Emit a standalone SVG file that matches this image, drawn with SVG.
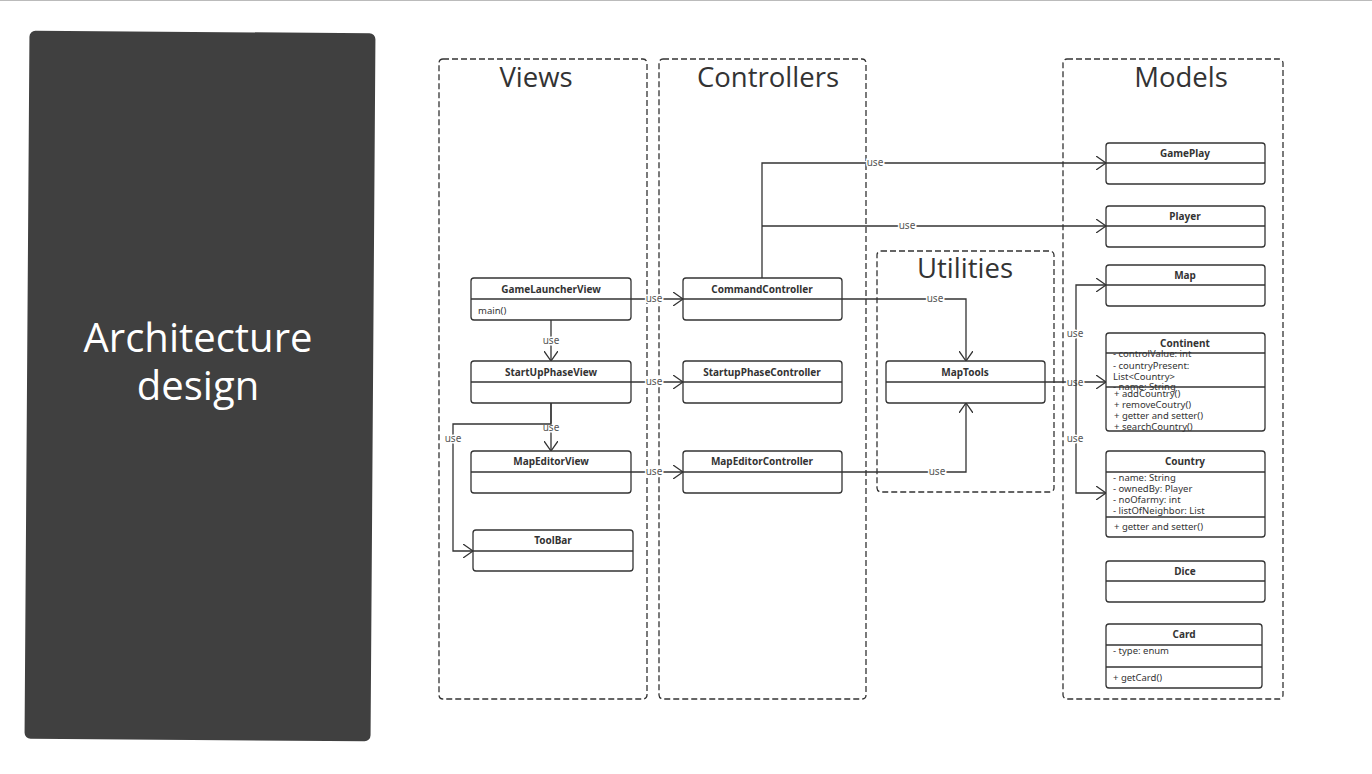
<svg xmlns="http://www.w3.org/2000/svg" width="1372" height="774" viewBox="0 0 1372 774">
<defs>
<style>
.cont{fill:none;stroke:#333;stroke-width:1.3;stroke-dasharray:6 3}
.title{font-family:"Open Sans","Noto Sans",sans-serif;font-size:27.5px;fill:#333;text-anchor:middle}
.box{fill:#fff;stroke:#333;stroke-width:1.3}
.sep{stroke:#333;stroke-width:1.3}
.name{font-family:"Noto Sans","DejaVu Sans",sans-serif;font-size:10px;font-weight:bold;fill:#333;text-anchor:middle}
.attr{font-family:"Noto Sans","DejaVu Sans",sans-serif;font-size:9.5px;fill:#333}
.edge{fill:none;stroke:#333;stroke-width:1.3}
.lbl{font-family:"Noto Sans","DejaVu Sans",sans-serif;font-size:10px;fill:#555;text-anchor:middle;dominant-baseline:middle;paint-order:stroke;stroke:#fff;stroke-width:3px}
</style>
<marker id="arr" viewBox="0 0 10 14" refX="10" refY="7" markerWidth="10" markerHeight="14" markerUnits="userSpaceOnUse" orient="auto">
<path d="M0,0 L10,7 L0,14" fill="none" stroke="#333" stroke-width="1.3"/>
</marker>
</defs>
<rect width="1372" height="774" fill="#fff"/>
<line x1="0" y1="0.5" x2="1372" y2="0.5" stroke="#bbb" stroke-width="1"/>
<g id="panel">
<rect x="27" y="32" width="346" height="708" rx="6" fill="#404040" transform="rotate(0.4 200 386)"/>
<text x="198" y="352" font-family="Open Sans,Noto Sans,sans-serif" font-size="40" fill="#fff" text-anchor="middle">Architecture</text>
<text x="198" y="400" font-family="Open Sans,Noto Sans,sans-serif" font-size="40" fill="#fff" text-anchor="middle">design</text>
</g>
<g id="containers">
<g id="views"><rect class="cont" x="439" y="59" width="208" height="640" rx="4"/><text class="title" x="536" y="87">Views</text></g>
<g id="controllers"><rect class="cont" x="659" y="59" width="207" height="640" rx="4"/><text class="title" x="768" y="87">Controllers</text></g>
<g id="utilities"><rect class="cont" x="877" y="251" width="177" height="241" rx="4"/><text class="title" x="965" y="278">Utilities</text></g>
<g id="models"><rect class="cont" x="1063" y="59" width="220" height="640" rx="4"/><text class="title" x="1181" y="87">Models</text></g>
</g>
<g id="connectors">
<path class="edge" d="M631,299 H683" marker-end="url(#arr)"/>
<text class="lbl" x="654" y="299">use</text>
<path class="edge" d="M631,382 H683" marker-end="url(#arr)"/>
<text class="lbl" x="654" y="382">use</text>
<path class="edge" d="M631,472 H683" marker-end="url(#arr)"/>
<text class="lbl" x="654" y="472">use</text>
<path class="edge" d="M551,320 V361" marker-end="url(#arr)"/>
<text class="lbl" x="551" y="341">use</text>
<path class="edge" d="M551,403 V451" marker-end="url(#arr)"/>
<text class="lbl" x="551" y="428">use</text>
<path class="edge" d="M551,403 V424 H453 V551 H473" marker-end="url(#arr)"/>
<text class="lbl" x="453" y="439">use</text>
<path class="edge" d="M762,278 V163 H1106" marker-end="url(#arr)"/>
<text class="lbl" x="875" y="163">use</text>
<path class="edge" d="M762,226 H1106" marker-end="url(#arr)"/>
<text class="lbl" x="907" y="226">use</text>
<path class="edge" d="M842,299 H966 V361" marker-end="url(#arr)"/>
<text class="lbl" x="935" y="299">use</text>
<path class="edge" d="M842,472 H966 V403" marker-end="url(#arr)"/>
<text class="lbl" x="937" y="472">use</text>
<path class="edge" d="M1045,382 H1106" marker-end="url(#arr)"/>
<text class="lbl" x="1075" y="383">use</text>
<path class="edge" d="M1076,382 V285 H1106" marker-end="url(#arr)"/>
<text class="lbl" x="1075" y="334">use</text>
<path class="edge" d="M1076,382 V493 H1106" marker-end="url(#arr)"/>
<text class="lbl" x="1075" y="439">use</text>
</g>
<g id="GameLauncherView"><rect class="box" x="471" y="278" width="160" height="42" rx="3"/><line class="sep" x1="471" y1="299" x2="631" y2="299"/><text class="name" x="551" y="293">GameLauncherView</text><text class="attr" x="478" y="314">main()</text></g>
<g id="CommandController"><rect class="box" x="683" y="278" width="159" height="42" rx="3"/><line class="sep" x1="683" y1="299" x2="842" y2="299"/><text class="name" x="762" y="293">CommandController</text></g>
<g id="StartUpPhaseView"><rect class="box" x="471" y="361" width="160" height="42" rx="3"/><line class="sep" x1="471" y1="382" x2="631" y2="382"/><text class="name" x="551" y="376">StartUpPhaseView</text></g>
<g id="StartupPhaseController"><rect class="box" x="683" y="361" width="159" height="42" rx="3"/><line class="sep" x1="683" y1="382" x2="842" y2="382"/><text class="name" x="762" y="376">StartupPhaseController</text></g>
<g id="MapEditorView"><rect class="box" x="471" y="451" width="160" height="42" rx="3"/><line class="sep" x1="471" y1="472" x2="631" y2="472"/><text class="name" x="551" y="465">MapEditorView</text></g>
<g id="MapEditorController"><rect class="box" x="683" y="451" width="159" height="42" rx="3"/><line class="sep" x1="683" y1="472" x2="842" y2="472"/><text class="name" x="762" y="465">MapEditorController</text></g>
<g id="ToolBar"><rect class="box" x="473" y="530" width="160" height="41" rx="3"/><line class="sep" x1="473" y1="551" x2="633" y2="551"/><text class="name" x="553" y="544">ToolBar</text></g>
<g id="MapTools"><rect class="box" x="886" y="361" width="159" height="42" rx="3"/><line class="sep" x1="886" y1="382" x2="1045" y2="382"/><text class="name" x="965" y="376">MapTools</text></g>
<g id="GamePlay"><rect class="box" x="1106" y="143" width="159" height="41" rx="3"/><line class="sep" x1="1106" y1="163" x2="1265" y2="163"/><text class="name" x="1185" y="157">GamePlay</text></g>
<g id="Player"><rect class="box" x="1106" y="206" width="159" height="41" rx="3"/><line class="sep" x1="1106" y1="226" x2="1265" y2="226"/><text class="name" x="1185" y="220">Player</text></g>
<g id="Map"><rect class="box" x="1106" y="265" width="159" height="41" rx="3"/><line class="sep" x1="1106" y1="285" x2="1265" y2="285"/><text class="name" x="1185" y="279">Map</text></g>
<g id="Continent"><rect class="box" x="1106" y="333" width="159" height="98" rx="3"/><line class="sep" x1="1106" y1="353" x2="1265" y2="353"/><line class="sep" x1="1106" y1="387" x2="1265" y2="387"/><text class="name" x="1185" y="347">Continent</text>
<text class="attr" x="1113" y="357">- controlValue: int</text>
<text class="attr" x="1113" y="369">- countryPresent:</text>
<text class="attr" x="1113" y="380">List&lt;Country&gt;</text>
<text class="attr" x="1113" y="390">- name: String</text>
<text class="attr" x="1114" y="397">+ addCountry()</text>
<text class="attr" x="1114" y="408">+ removeCoutry()</text>
<text class="attr" x="1114" y="419">+ getter and setter()</text>
<text class="attr" x="1114" y="430">+ searchCountry()</text></g>
<g id="Country"><rect class="box" x="1106" y="451" width="159" height="86" rx="3"/><line class="sep" x1="1106" y1="472" x2="1265" y2="472"/><line class="sep" x1="1106" y1="517" x2="1265" y2="517"/><text class="name" x="1185" y="465">Country</text>
<text class="attr" x="1113" y="481">- name: String</text>
<text class="attr" x="1113" y="492">- ownedBy: Player</text>
<text class="attr" x="1113" y="503">- noOfarmy: int</text>
<text class="attr" x="1113" y="514">- listOfNeighbor: List</text>
<text class="attr" x="1114" y="530">+ getter and setter()</text></g>
<g id="Dice"><rect class="box" x="1106" y="561" width="159" height="41" rx="3"/><line class="sep" x1="1106" y1="581" x2="1265" y2="581"/><text class="name" x="1185" y="575">Dice</text></g>
<g id="Card"><rect class="box" x="1106" y="624" width="156" height="64" rx="3"/><line class="sep" x1="1106" y1="645" x2="1262" y2="645"/><line class="sep" x1="1106" y1="667" x2="1262" y2="667"/><text class="name" x="1184" y="638">Card</text>
<text class="attr" x="1113" y="654">- type: enum</text>
<text class="attr" x="1113" y="681">+ getCard()</text></g>
</svg>
